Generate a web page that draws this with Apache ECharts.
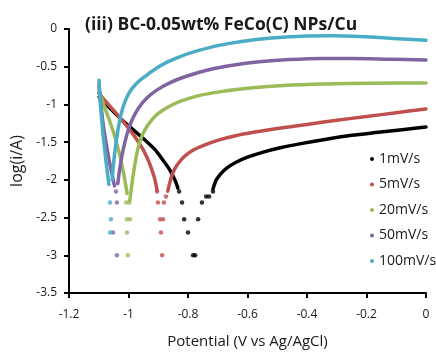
<!DOCTYPE html>
<html>
<head>
<meta charset="utf-8">
<script src="https://cdn.jsdelivr.net/npm/echarts@6/dist/echarts.min.js"></script>
<style>html,body{margin:0;padding:0;background:#fff}#c{width:436px;height:356px}</style>
</head>
<body>
<div id="c"></div>
<script>
// Series names and colours
const rateNames = ['1mV/s', '5mV/s', '20mV/s', '50mV/s', '100mV/s'];
const rateColors = ['#000000', '#c0504d', '#9bbb59', '#8064a2', '#4bacc6'];

// Axis ticks
const xTicks = [-1.2, -1, -0.8, -0.6, -0.4, -0.2, 0];
const yTicks = [0, -0.5, -1, -1.5, -2, -2.5, -3, -3.5];

// [Potential (V), log(i/A)] : cathodic branch, discrete low-current points, anodic branch
const black_cathodic = [[-1.099,-0.90],[-1.062,-1.05],[-1.029,-1.18],[-0.995,-1.30],[-0.951,-1.45],[-0.911,-1.60],[-0.884,-1.74],[-0.861,-1.87],[-0.844,-2.00],[-0.834,-2.11]];
const black_low = [[-0.830,-2.155],[-0.820,-2.301],[-0.813,-2.523],[-0.800,-2.699],[-0.783,-3.0],[-0.776,-3.0],[-0.766,-2.523],[-0.753,-2.301],[-0.739,-2.222],[-0.729,-2.222],[-0.716,-2.155]];
const black_anodic = [[-0.716,-2.12],[-0.705,-2.00],[-0.690,-1.92],[-0.670,-1.845],[-0.640,-1.77],[-0.600,-1.70],[-0.550,-1.635],[-0.490,-1.575],[-0.420,-1.52],[-0.340,-1.465],[-0.250,-1.41],[-0.160,-1.37],[-0.080,-1.335],[0,-1.30]];

const red_cathodic = [[-1.100,-0.85],[-1.079,-0.95],[-1.052,-1.07],[-1.022,-1.21],[-0.995,-1.34],[-0.961,-1.53],[-0.938,-1.70],[-0.921,-1.87],[-0.911,-2.00],[-0.904,-2.14]];
const red_low = [[-0.904,-2.155],[-0.901,-2.301],[-0.881,-2.301],[-0.894,-2.523],[-0.884,-2.523],[-0.891,-2.699],[-0.887,-3.0],[-0.874,-2.222]];
const red_anodic = [[-0.868,-2.15],[-0.860,-2.02],[-0.850,-1.90],[-0.836,-1.80],[-0.815,-1.70],[-0.785,-1.61],[-0.745,-1.54],[-0.695,-1.47],[-0.640,-1.415],[-0.580,-1.37],[-0.500,-1.32],[-0.400,-1.265],[-0.300,-1.21],[-0.200,-1.16],[-0.100,-1.11],[0,-1.06]];

const green_cathodic = [[-1.100,-0.78],[-1.092,-0.90],[-1.080,-1.04],[-1.066,-1.19],[-1.052,-1.35],[-1.040,-1.51],[-1.029,-1.68],[-1.019,-1.86],[-1.011,-2.03],[-1.005,-2.18]];
const green_low = [[-1.008,-2.301],[-0.998,-2.301],[-1.005,-2.523],[-0.995,-2.523],[-1.005,-2.699],[-1.002,-3.0]];
const green_anodic = [[-0.996,-2.28],[-0.990,-2.10],[-0.984,-1.93],[-0.977,-1.76],[-0.969,-1.60],[-0.958,-1.45],[-0.944,-1.33],[-0.925,-1.22],[-0.900,-1.12],[-0.865,-1.03],[-0.820,-0.95],[-0.760,-0.88],[-0.690,-0.83],[-0.600,-0.785],[-0.480,-0.75],[-0.340,-0.73],[-0.180,-0.72],[0,-0.715]];

const purple_cathodic = [[-1.099,-0.74],[-1.095,-0.92],[-1.090,-1.10],[-1.085,-1.27],[-1.078,-1.45],[-1.070,-1.63],[-1.062,-1.80],[-1.054,-1.95],[-1.047,-2.08]];
const purple_low = [[-1.042,-2.155],[-1.039,-2.301],[-1.052,-2.699],[-1.039,-3.0]];
const purple_anodic = [[-1.036,-2.05],[-1.030,-1.87],[-1.022,-1.68],[-1.012,-1.50],[-1.000,-1.33],[-0.985,-1.18],[-0.965,-1.04],[-0.940,-0.92],[-0.905,-0.81],[-0.860,-0.71],[-0.800,-0.62],[-0.730,-0.54],[-0.650,-0.48],[-0.560,-0.435],[-0.460,-0.405],[-0.350,-0.39],[-0.250,-0.39],[-0.120,-0.40],[0,-0.41]];

const cyan_cathodic = [[-1.099,-0.68],[-1.097,-0.85],[-1.094,-1.02],[-1.090,-1.20],[-1.086,-1.38],[-1.081,-1.56],[-1.076,-1.74],[-1.071,-1.90],[-1.066,-2.06]];
const cyan_low = [[-1.062,-2.301],[-1.059,-2.523],[-1.062,-2.699]];
const cyan_anodic = [[-1.055,-2.00],[-1.048,-1.70],[-1.040,-1.45],[-1.030,-1.22],[-1.018,-1.03],[-1.000,-0.86],[-0.975,-0.73],[-0.945,-0.63],[-0.910,-0.53],[-0.870,-0.44],[-0.820,-0.355],[-0.760,-0.28],[-0.700,-0.22],[-0.620,-0.165],[-0.520,-0.12],[-0.420,-0.095],[-0.320,-0.09],[-0.220,-0.10],[-0.110,-0.125],[0,-0.15]];

const branches = [
  [black_cathodic, black_low, black_anodic],
  [red_cathodic, red_low, red_anodic],
  [green_cathodic, green_low, green_anodic],
  [purple_cathodic, purple_low, purple_anodic],
  [cyan_cathodic, cyan_low, cyan_anodic]
];

const FONT = 'Open Sans';
const series = [];
branches.forEach((b, i) => {
  const name = rateNames[i], color = rateColors[i];
  [b[0], b[2]].forEach(d => series.push({
    type: 'line', name: name, data: d, smooth: 0.3,
    showSymbol: false, symbol: 'circle', symbolSize: 4,
    lineStyle: { width: 3.5, color: color, cap: 'round', join: 'round' }, itemStyle: { color: color },
    silent: true
  }));
  series.push({
    type: 'scatter', name: name, data: b[1], symbol: 'circle', symbolSize: 4.5,
    itemStyle: { color: color }, silent: true
  });
});

const chart = echarts.init(document.getElementById('c'), null, { renderer: 'canvas' });
const fmt = v => { const r = Math.round(v * 10) / 10; return (Object.is(r, -0) ? 0 : r).toString(); };
chart.setOption({
  animation: false,
  backgroundColor: '#ffffff',
  title: {
    text: '(iii) BC-0.05wt% FeCo(C) NPs/Cu',
    left: 80, top: 11,
    textStyle: { fontFamily: FONT, fontSize: 17.5, fontWeight: 'bold', color: '#1a1a1a' }
  },
  grid: { left: 69, right: 10, top: 29, bottom: 63, containLabel: false },
  legend: {
    orient: 'vertical', left: 365, top: 147,
    data: rateNames, icon: 'circle', itemWidth: 4, itemHeight: 4, itemGap: 11.5,
    textStyle: { fontFamily: FONT, fontSize: 14, color: '#1a1a1a' }
  },
  xAxis: {
    type: 'value', min: -1.2, max: 0, interval: 0.2,
    name: 'Potential (V vs Ag/AgCl)', nameLocation: 'middle', nameGap: 41,
    nameTextStyle: { fontFamily: FONT, fontSize: 15, color: '#1a1a1a' },
    axisLine: { show: true, onZero: false, lineStyle: { color: '#000', width: 2 } },
    axisTick: { show: true, inside: false, length: 5, lineStyle: { color: '#000', width: 2 } },
    axisLabel: { margin: 16, fontFamily: FONT, fontSize: 12, color: '#1a1a1a', formatter: fmt },
    splitLine: { show: false }
  },
  yAxis: {
    type: 'value', min: -3.5, max: 0, interval: 0.5,
    name: 'log(i/A)', nameLocation: 'middle', nameGap: 43, nameRotate: 90,
    nameTextStyle: { fontFamily: FONT, fontSize: 16, color: '#1a1a1a' },
    axisLine: { show: true, onZero: false, lineStyle: { color: '#000', width: 2 } },
    axisTick: { show: true, inside: false, length: 5, lineStyle: { color: '#000', width: 2 } },
    axisLabel: { margin: 12, fontFamily: FONT, fontSize: 12, color: '#1a1a1a', formatter: fmt },
    splitLine: { show: false }
  },
  series: series
});
</script>
</body>
</html>
